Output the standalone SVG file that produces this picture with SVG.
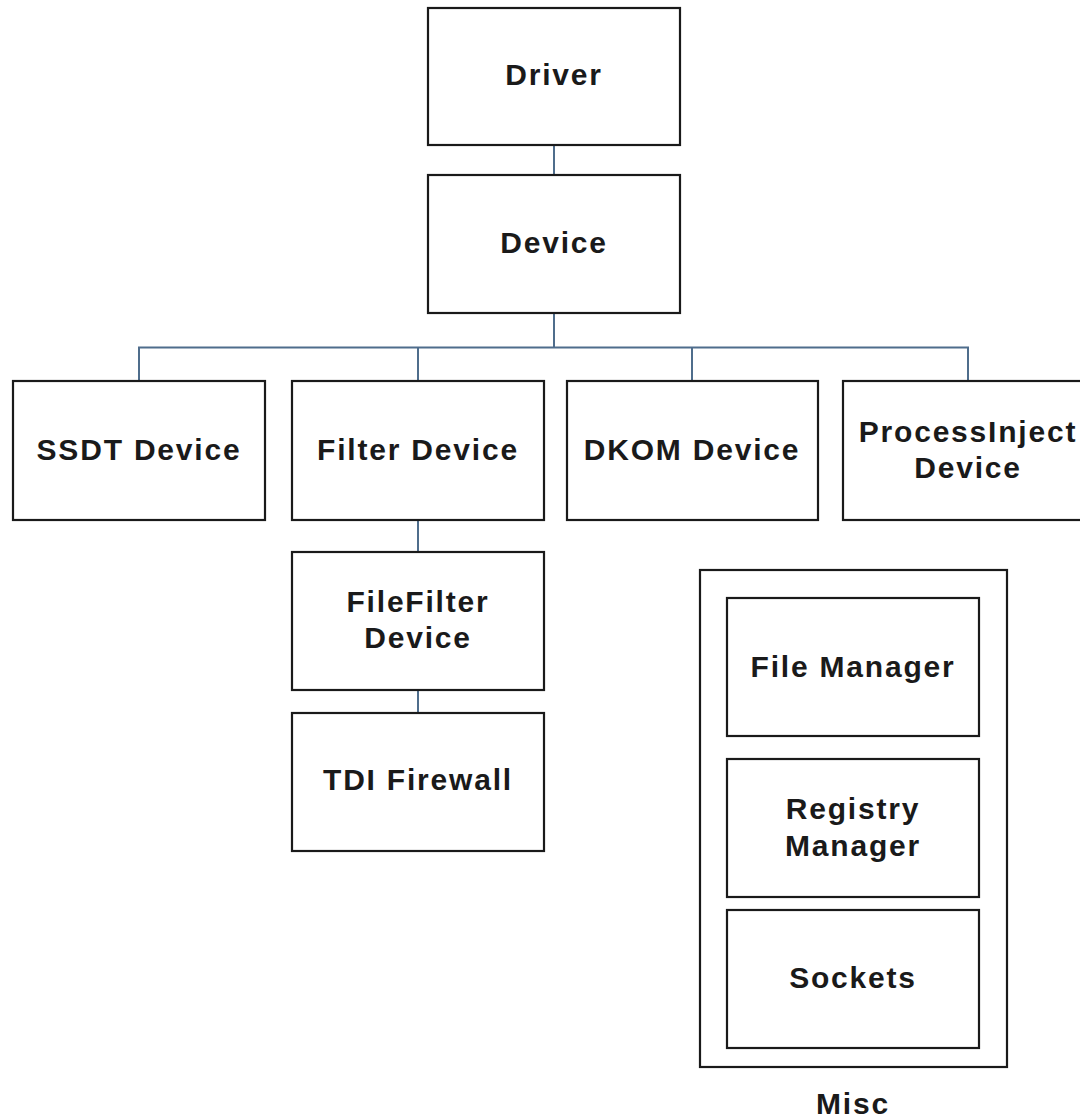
<svg xmlns="http://www.w3.org/2000/svg" width="1080" height="1119" viewBox="0 0 1080 1119">
  <style>
    .box { fill: #ffffff; stroke: #1a1a1a; stroke-width: 2.2; }
    .frame { fill: none; stroke: #1a1a1a; stroke-width: 2.2; }
    .lbl { font-family: "Liberation Sans", Arial, sans-serif; font-weight: bold; font-size: 30px; letter-spacing: 1.8px; fill: #1a1a1a; text-anchor: middle; }
    .wire { fill: none; stroke: #4f6d8c; stroke-width: 2; }
  </style>
  <rect x="0" y="0" width="1080" height="1119" fill="#ffffff"/>

  <g id="connectors">
    <path class="wire" d="M554 145 V175"/>
    <path class="wire" d="M554 313 V347.5"/>
    <path class="wire" d="M139 381 V347.5 H968 V381"/>
    <path class="wire" d="M418 347.5 V381"/>
    <path class="wire" d="M692 347.5 V381"/>
    <path class="wire" d="M418 520 V552"/>
    <path class="wire" d="M418 690 V713"/>
  </g>

  <g id="driver">
    <rect class="box" x="428" y="8" width="252" height="137"/>
    <text class="lbl" x="554" y="85">Driver</text>
  </g>
  <g id="device">
    <rect class="box" x="428" y="175" width="252" height="138"/>
    <text class="lbl" x="554" y="253">Device</text>
  </g>
  <g id="ssdt-device">
    <rect class="box" x="13" y="381" width="252" height="139"/>
    <text class="lbl" x="139" y="460">SSDT Device</text>
  </g>
  <g id="filter-device">
    <rect class="box" x="292" y="381" width="252" height="139"/>
    <text class="lbl" x="418" y="460">Filter Device</text>
  </g>
  <g id="dkom-device">
    <rect class="box" x="567" y="381" width="251" height="139"/>
    <text class="lbl" x="692" y="460">DKOM Device</text>
  </g>
  <g id="processinject-device">
    <rect class="box" x="843" y="381" width="252" height="139"/>
    <text class="lbl" x="968" y="442">ProcessInject</text>
    <text class="lbl" x="968" y="478">Device</text>
  </g>
  <g id="filefilter-device">
    <rect class="box" x="292" y="552" width="252" height="138"/>
    <text class="lbl" x="418" y="612">FileFilter</text>
    <text class="lbl" x="418" y="648">Device</text>
  </g>
  <g id="tdi-firewall">
    <rect class="box" x="292" y="713" width="252" height="138"/>
    <text class="lbl" x="418" y="790">TDI Firewall</text>
  </g>

  <g id="misc">
    <rect class="frame" x="700" y="570" width="307" height="497"/>
    <text class="lbl" x="853" y="1114">Misc</text>
    <g id="file-manager">
      <rect class="box" x="727" y="598" width="252" height="138"/>
      <text class="lbl" x="853" y="677">File Manager</text>
    </g>
    <g id="registry-manager">
      <rect class="box" x="727" y="759" width="252" height="138"/>
      <text class="lbl" x="853" y="819">Registry</text>
      <text class="lbl" x="853" y="856">Manager</text>
    </g>
    <g id="sockets">
      <rect class="box" x="727" y="910" width="252" height="138"/>
      <text class="lbl" x="853" y="988">Sockets</text>
    </g>
  </g>
</svg>
